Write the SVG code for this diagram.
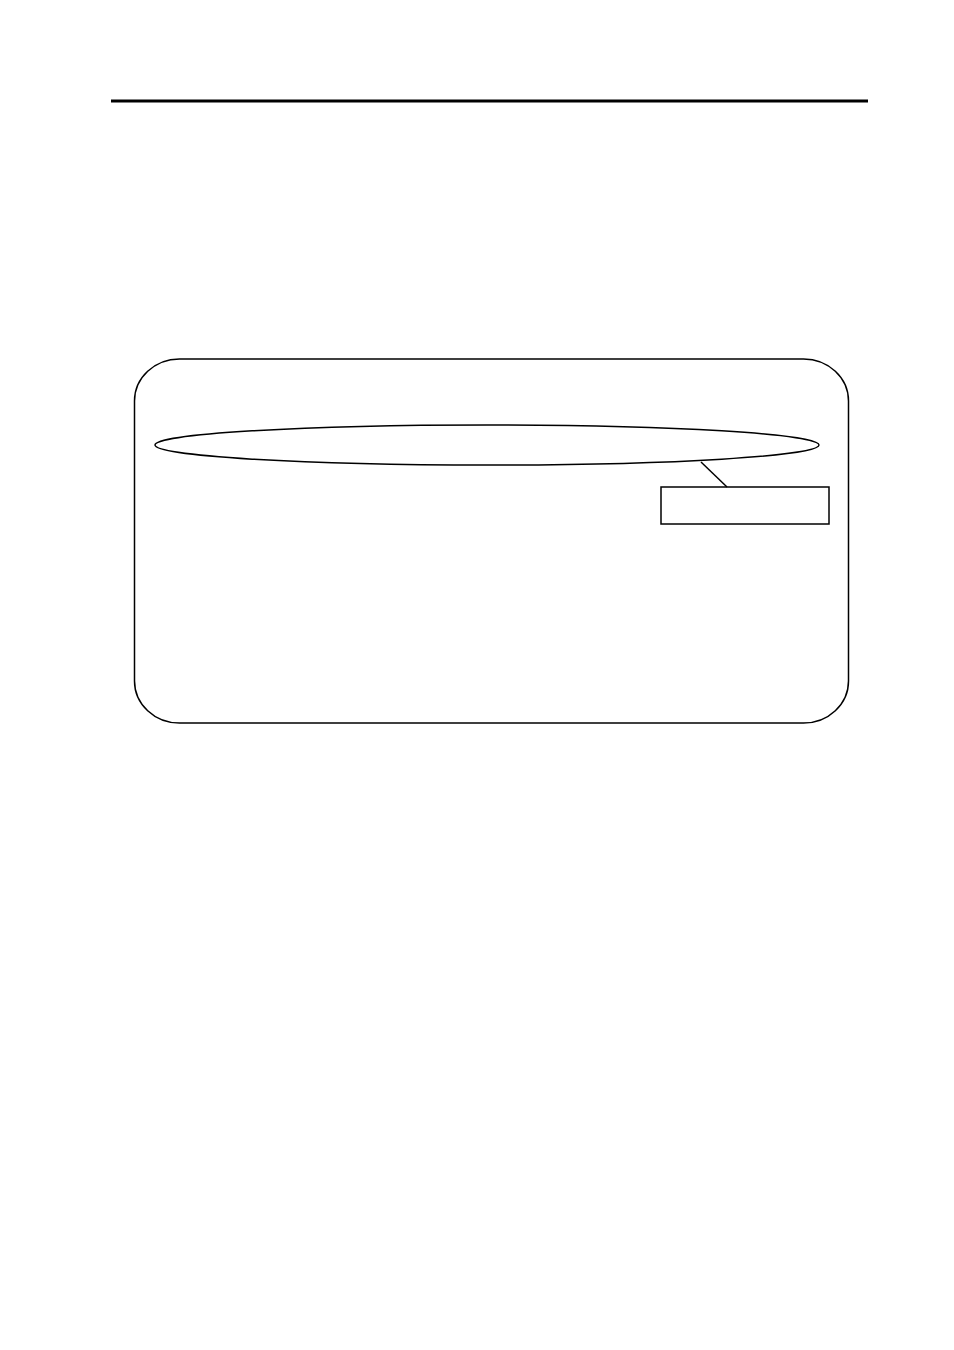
<svg xmlns="http://www.w3.org/2000/svg" width="954" height="1350" viewBox="0 0 954 1350">
<style>
.s{fill:none;stroke:#000;stroke-width:1.5}
</style>
<rect width="954" height="1350" fill="#fff"/>
<line x1="111" y1="101" x2="868" y2="101" stroke="#000" stroke-width="3"/>
<g id="frame"><rect class="s" x="134.5" y="359" width="714" height="364" rx="45" ry="42"/></g>
<g id="ellipse"><ellipse class="s" cx="487" cy="445" rx="332" ry="20"/></g>
<g id="label-box"><rect class="s" x="661" y="487" width="168" height="37"/></g>
<g id="connectors"><line class="s" x1="701" y1="462" x2="727" y2="487"/></g>
</svg>
